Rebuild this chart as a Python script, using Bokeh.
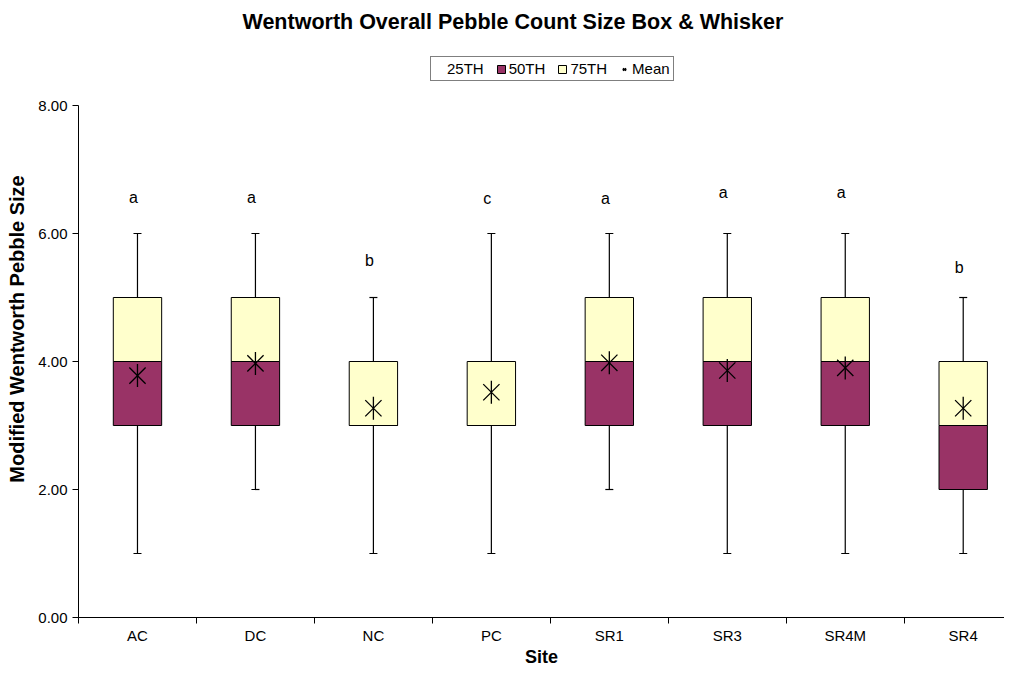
from bokeh.plotting import figure
from bokeh.models import (Range1d, FixedTicker, PrintfTickFormatter, Legend, LegendItem,
                          ColumnDataSource)
from bokeh.core.properties import value
from bokeh.embed import file_html
from bokeh.resources import INLINE

sites = ["AC", "DC", "NC", "PC", "SR1", "SR3", "SR4M", "SR4"]
minimum = [1, 2, 1, 1, 2, 1, 1, 1]
q25 = [3, 3, 3, 3, 3, 3, 3, 2]
q50 = [4, 4, 3, 3, 4, 4, 4, 3]
q75 = [5, 5, 4, 4, 5, 5, 5, 4]
maximum = [6, 6, 5, 6, 6, 6, 6, 5]
mean = [3.78, 3.97, 3.27, 3.52, 3.98, 3.86, 3.90, 3.27]
letters = ["a", "a", "b", "c", "a", "a", "a", "b"]
letter_y = [6.56, 6.56, 5.58, 6.55, 6.55, 6.64, 6.64, 5.47]

FONT = "Liberation Sans"
PURPLE = "#993366"
YELLOW = "#FFFFCC"

x = [i + 0.5 for i in range(len(sites))]
src = ColumnDataSource(dict(x=x, mn=minimum, q25=q25, q50=q50, q75=q75, mx=maximum,
                            mean=mean, zero=[0] * len(sites), lab=letters, ly=letter_y))

p = figure(width=1004, height=669, output_backend="svg", toolbar_location=None,
           x_range=Range1d(0, 7.85), y_range=Range1d(0, 9.016),
           min_border_left=78, min_border_right=0, min_border_top=40, min_border_bottom=52,
           title="Wentworth Overall Pebble Count Size Box & Whisker")
p.outline_line_color = None
p.grid.visible = False
p.background_fill_color = "white"

p.title.text_font = FONT
p.title.text_font_size = "21.5px"
p.title.text_font_style = "bold"
p.title.text_color = "black"
p.title.align = "left"
p.title.offset = 164
p.title.standoff = 13

# whiskers
p.segment(x0="x", y0="mn", x1="x", y1="mx", source=src, line_color="black", line_width=1.2)
p.scatter(x="x", y="mn", source=src, marker="dash", size=8, line_color="black", line_width=1.2)
p.scatter(x="x", y="mx", source=src, marker="dash", size=8, line_color="black", line_width=1.2)

r25 = p.vbar(x="x", bottom="zero", top="q25", width=0.41, source=src,
             fill_alpha=0, line_alpha=0)
r50 = p.vbar(x="x", bottom="q25", top="q50", width=0.41, source=src,
             fill_color=PURPLE, line_color="black", line_width=1)
r75 = p.vbar(x="x", bottom="q50", top="q75", width=0.41, source=src,
             fill_color=YELLOW, line_color="black", line_width=1)
rm1 = p.scatter(x="x", y="mean", source=src, marker="x", size=23, line_color="black", line_width=1.3)
rm2 = p.scatter(x="x", y="mean", source=src, marker="dash", angle=1.5708, size=23,
                line_color="black", line_width=1.3)

p.text(x="x", y="ly", text="lab", source=src, x_offset=-4, text_align="center",
       text_baseline="middle", text_font=value(FONT), text_font_size="16px", text_color="black")

# axes
xa = p.xaxis[0]
xa.ticker = FixedTicker(ticks=x, minor_ticks=list(range(len(sites) + 1)))
xa.major_label_overrides = {xi: s for xi, s in zip(x, sites)}
xa.major_tick_out = 0
xa.major_tick_in = 0
xa.minor_tick_out = 6
xa.minor_tick_in = 0
xa.major_label_standoff = 3
xa.major_label_text_font = FONT
xa.major_label_text_font_size = "15px"
xa.major_label_text_color = "black"
xa.axis_label = "Site"
xa.axis_label_text_font = FONT
xa.axis_label_text_font_size = "18px"
xa.axis_label_text_font_style = "bold"
xa.axis_label_text_color = "black"
xa.axis_label_standoff = 0
xa.axis_line_color = "black"

ya = p.yaxis[0]
ya.bounds = (0, 8)
ya.ticker = FixedTicker(ticks=[0, 2, 4, 6, 8])
ya.formatter = PrintfTickFormatter(format="%.2f")
ya.major_tick_out = 6
ya.major_tick_in = 0
ya.minor_tick_out = 0
ya.minor_tick_in = 0
ya.major_label_standoff = 5
ya.major_label_text_font = FONT
ya.major_label_text_font_size = "15px"
ya.major_label_text_color = "black"
ya.axis_label = "Modified Wentworth Pebble Size"
ya.axis_label_text_font = FONT
ya.axis_label_text_font_size = "20px"
ya.axis_label_text_font_style = "bold"
ya.axis_label_text_color = "black"
ya.axis_label_standoff = 7
ya.axis_line_color = "black"

legend = Legend(items=[
    LegendItem(label="25TH", renderers=[r25]),
    LegendItem(label="50TH", renderers=[r50]),
    LegendItem(label="75TH", renderers=[r75]),
    LegendItem(label="Mean", renderers=[rm1, rm2]),
], orientation="horizontal", location=(352, 536),
    label_text_font=FONT, label_text_font_size="15px", label_text_color="black",
    glyph_width=10, glyph_height=10, label_standoff=3, spacing=12,
    padding=3, margin=0, border_line_color="black", border_line_width=1,
    label_height=14)
p.add_layout(legend, "center")

open("out.html", "w").write(file_html(p, INLINE))
